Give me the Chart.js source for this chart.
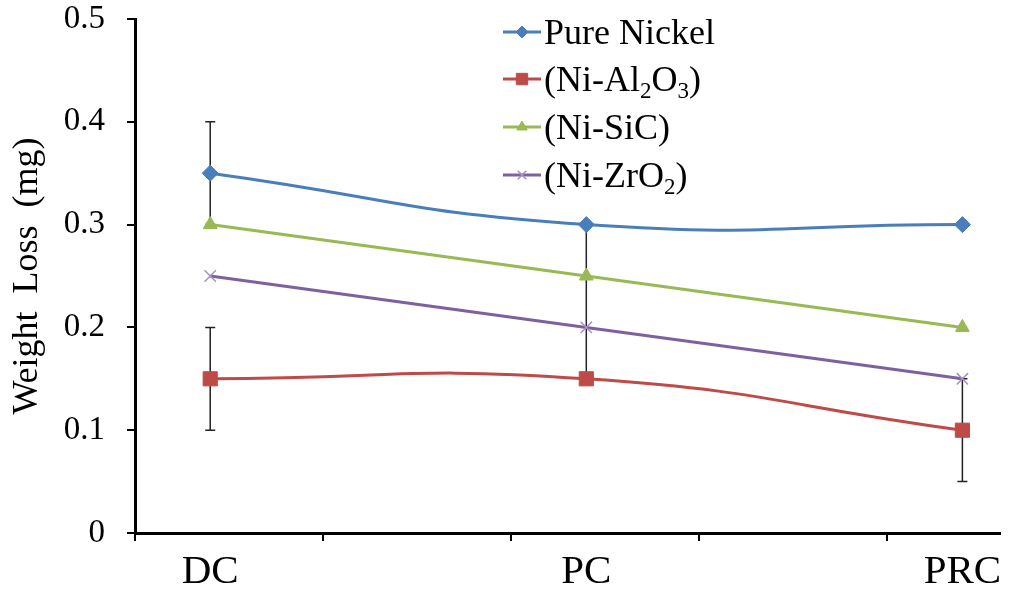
<!DOCTYPE html>
<html>
<head>
<meta charset="utf-8">
<script src="https://cdn.jsdelivr.net/npm/chart.js@4/dist/chart.umd.min.js"></script>
<style>
  html, body { margin: 0; padding: 0; background: #fff; }
  #wrap { width: 1013px; height: 593px; position: relative; }
</style>
</head>
<body>
<div id="wrap"><canvas id="lossChart"></canvas></div>
<script>
// data
var categories = ['DC', 'PC', 'PRC'];
var pureNickel = [0.35, 0.30, 0.30];
var niAl2O3 = [0.15, 0.15, 0.10];
var niSiC = [0.30, 0.25, 0.20];
var niZrO2 = [0.25, 0.20, 0.15];
var yTicks = [0, 0.1, 0.2, 0.3, 0.4, 0.5];
var xTicks = [0.8, 1.3, 1.8, 2.3, 2.8];
// error bars: category index, low, high, caps
var errorBars = [
    [0, 0.30, 0.40, true],
    [0, 0.10, 0.20, true],
    [1, 0.15, 0.30, false],
    [2, 0.05, 0.15, true]
];

var serif = '"Liberation Serif", "Times New Roman", serif';

function pts(vals) {
    return vals.map(function (v, i) { return { x: i + 1, y: v }; });
}

function series(label, vals, color, style, radius, markerColor) {
    return {
        label: label,
        data: pts(vals),
        borderColor: color,
        backgroundColor: markerColor || color,
        borderWidth: 3,
        pointStyle: style,
        pointRadius: radius,
        pointBorderWidth: style === 'crossRot' ? 1.5 : 1,
        pointBorderColor: markerColor || color,
        tension: 0.5,
        fill: false
    };
}

var errorBarPlugin = {
    id: 'errorBars',
    beforeDatasetsDraw: function (chart) {
        var ctx = chart.ctx, xs = chart.scales.x, ys = chart.scales.y;
        ctx.save();
        ctx.strokeStyle = '#222';
        ctx.lineWidth = 1.5;
        errorBars.forEach(function (e) {
            var x = xs.getPixelForValue(e[0] + 1);
            var y1 = ys.getPixelForValue(e[1]);
            var y2 = ys.getPixelForValue(e[2]);
            ctx.beginPath();
            ctx.moveTo(x, y1);
            ctx.lineTo(x, y2);
            if (e[3]) {
                ctx.moveTo(x - 5, y1); ctx.lineTo(x + 5, y1);
                ctx.moveTo(x - 5, y2); ctx.lineTo(x + 5, y2);
            }
            ctx.stroke();
        });
        ctx.restore();
    }
};

// legend with real subscripts
var legendPlugin = {
    id: 'subLegend',
    afterDraw: function (chart) {
        var ctx = chart.ctx;
        var x0 = 503, rowY = [32, 79, 127, 175];
        ctx.save();
        chart.data.datasets.forEach(function (ds, i) {
            var y = rowY[i];
            ctx.strokeStyle = ds.borderColor;
            ctx.lineWidth = 3;
            ctx.beginPath();
            ctx.moveTo(x0, y);
            ctx.lineTo(x0 + 38, y);
            ctx.stroke();
            ctx.fillStyle = ds.backgroundColor;
            ctx.strokeStyle = ds.pointBorderColor;
            ctx.lineWidth = ds.pointBorderWidth;
            Chart.helpers.drawPoint(ctx, { pointStyle: ds.pointStyle, radius: ds.pointRadius - 2, borderWidth: ds.pointBorderWidth }, x0 + 19, y);
            // text, digits drawn as subscripts
            var parts = ds.label.split(/(\d)/);
            var tx = x0 + 41;
            ctx.fillStyle = '#000';
            ctx.textBaseline = 'alphabetic';
            parts.forEach(function (p, k) {
                if (!p) return;
                var sub = k % 2 === 1;
                ctx.font = (sub ? '23px ' : '36px ') + serif;
                ctx.fillText(p, tx, y + 12 + (sub ? 7 : 0));
                tx += ctx.measureText(p).width;
            });
        });
        ctx.restore();
    }
};

var ctx = document.getElementById('lossChart').getContext('2d');
var chart = new Chart(ctx, {
    type: 'line',
    data: {
        datasets: [
            series('Pure Nickel', pureNickel, '#4A7EBB', 'rectRot', 8),
            series('(Ni-Al2O3)', niAl2O3, '#BE4B48', 'rect', 10),
            series('(Ni-SiC)', niSiC, '#98B954', 'triangle', 8),
            series('(Ni-ZrO2)', niZrO2, '#7D60A0', 'crossRot', 8, '#A590C8')
        ]
    },
    options: {
        responsive: true,
        maintainAspectRatio: false,
        animation: false,
        layout: { padding: { left: 6, right: 13, top: 19, bottom: 0 } },
        plugins: {
            legend: { display: false },
            tooltip: { enabled: false }
        },
        scales: {
            x: {
                type: 'linear',
                position: 'bottom',
                min: 0.8,
                max: 3.1,
                weight: 0,
                afterBuildTicks: function (axis) {
                    axis.ticks = xTicks.map(function (v) { return { value: v }; });
                },
                afterFit: function (axis) { axis.height = 9; },
                ticks: { display: false },
                grid: { drawOnChartArea: false, drawTicks: true, tickLength: 8, color: '#000', lineWidth: 2 },
                border: { color: '#000', width: 3 }
            },
            xCat: {
                type: 'linear',
                position: 'bottom',
                min: 0.8,
                max: 3.1,
                weight: 1,
                afterBuildTicks: function (axis) {
                    axis.ticks = categories.map(function (c, i) { return { value: i + 1 }; });
                },
                afterFit: function (axis) { axis.height = 51; },
                ticks: {
                    autoSkip: false,
                    maxRotation: 0,
                    padding: 2,
                    color: '#000',
                    font: { family: serif, size: 41, lineHeight: 1 },
                    callback: function (v) { return categories[v - 1]; }
                },
                grid: { display: false },
                border: { display: false }
            },
            y: {
                min: 0,
                max: 0.5,
                afterBuildTicks: function (axis) {
                    axis.ticks = yTicks.map(function (v) { return { value: v }; });
                },
                afterFit: function (axis) {
                    axis.width = 129;
                    axis.paddingTop = 0;
                    axis.paddingBottom = 0;
                },
                ticks: {
                    padding: 22,
                    color: '#000',
                    font: { family: serif, size: 33, lineHeight: 1 },
                    callback: function (v) { return v === 0 ? '0' : v.toFixed(1); }
                },
                grid: { drawOnChartArea: false, drawTicks: true, tickLength: 8, color: '#000', lineWidth: 2 },
                border: { color: '#000', width: 3 },
                title: {
                    display: true,
                    text: 'Weight  Loss  (mg)',
                    color: '#000',
                    font: { family: serif, size: 36 },
                    padding: 0
                }
            }
        }
    },
    plugins: [errorBarPlugin, legendPlugin]
});
</script>
</body>
</html>
